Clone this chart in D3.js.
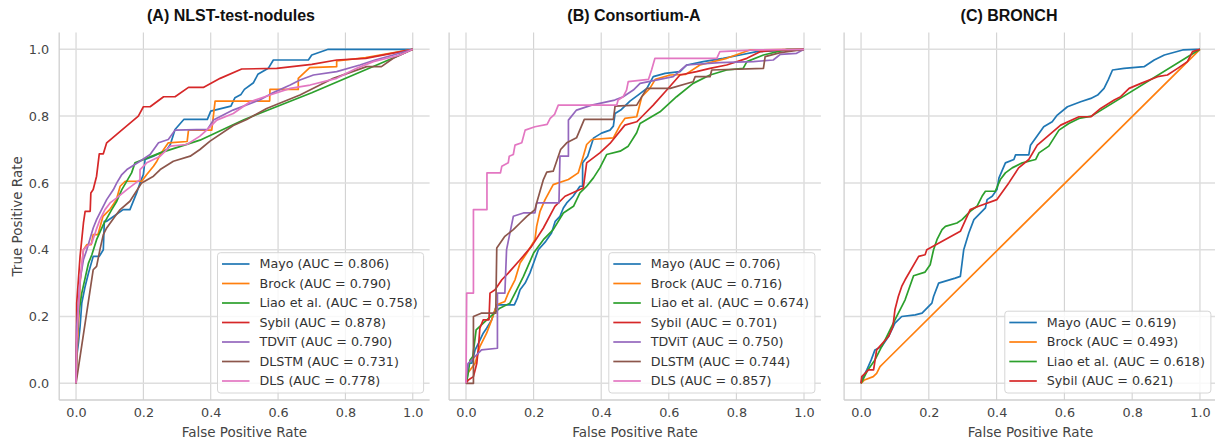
<!DOCTYPE html>
<html><head><meta charset="utf-8">
<script src="https://cdn.jsdelivr.net/npm/d3@7"></script>
<style>body{margin:0;background:#fff} svg{display:block}</style>
</head><body><svg id="c" width="1215" height="442"></svg>
<script>
// ---------------- data ----------------
const modelNames = ["Mayo","Brock","Liao et al.","Sybil","TDViT","DLSTM","DLS"];
const modelColors = ["#1f77b4","#ff7f0e","#2ca02c","#d62728","#9467bd","#8c564b","#e377c2"];
const panelTitles = ["(A) NLST-test-nodules","(B) Consortium-A","(C) BRONCH"];
const tickValues = [0,0.2,0.4,0.6,0.8,1.0];
const tickLabels = ["0.0","0.2","0.4","0.6","0.8","1.0"];
const xAxisLabel = "False Positive Rate";
const yAxisLabel = "True Positive Rate";
const aucA = [0.806,0.790,0.758,0.878,0.790,0.731,0.778];
const aucB = [0.706,0.716,0.674,0.701,0.750,0.744,0.857];
const aucC = [0.619,0.493,0.618,0.621];

// Panel A: NLST-test-nodules  ([FPR, TPR])
const rocA_Mayo = [[0,0],[0.002,0.08],[0.007,0.12],[0.012,0.17],[0.017,0.24],[0.027,0.29],[0.037,0.33],[0.051,0.38],[0.069,0.38],[0.081,0.40],[0.084,0.485],[0.091,0.485],[0.14,0.52],[0.16,0.52],[0.18,0.57],[0.19,0.60],[0.2,0.625],[0.205,0.67],[0.23,0.68],[0.27,0.70],[0.28,0.715],[0.294,0.76],[0.32,0.79],[0.39,0.79],[0.40,0.815],[0.46,0.83],[0.472,0.855],[0.49,0.865],[0.50,0.88],[0.527,0.9],[0.54,0.925],[0.571,0.943],[0.586,0.968],[0.69,0.968],[0.70,0.983],[0.749,1.0],[1,1]];
const rocA_Brock = [[0,0],[0.003,0.1],[0.007,0.17],[0.012,0.3],[0.022,0.40],[0.032,0.415],[0.045,0.415],[0.051,0.445],[0.065,0.445],[0.08,0.5],[0.1,0.52],[0.12,0.55],[0.131,0.59],[0.146,0.605],[0.195,0.605],[0.21,0.625],[0.23,0.65],[0.24,0.665],[0.25,0.685],[0.274,0.72],[0.33,0.724],[0.334,0.758],[0.403,0.758],[0.413,0.845],[0.575,0.845],[0.576,0.88],[0.66,0.88],[0.66,0.913],[0.694,0.945],[0.774,0.948],[0.774,0.965],[0.86,0.975],[1,1]];
const rocA_Liao = [[0,0],[0.002,0.12],[0.007,0.2],[0.017,0.27],[0.037,0.36],[0.047,0.385],[0.061,0.43],[0.081,0.475],[0.106,0.52],[0.121,0.545],[0.136,0.58],[0.165,0.63],[0.175,0.66],[0.25,0.69],[0.368,0.728],[0.5,0.79],[0.7,0.87],[0.94,0.973],[1,1]];
const rocA_Sybil = [[0,0],[0.002,0.24],[0.007,0.31],[0.012,0.38],[0.017,0.43],[0.022,0.48],[0.027,0.515],[0.042,0.515],[0.044,0.57],[0.051,0.58],[0.061,0.62],[0.069,0.687],[0.081,0.687],[0.091,0.72],[0.126,0.75],[0.185,0.80],[0.2,0.828],[0.22,0.828],[0.26,0.858],[0.294,0.858],[0.334,0.886],[0.378,0.886],[0.428,0.913],[0.492,0.941],[0.596,0.943],[0.7,0.955],[0.774,0.968],[0.86,0.973],[1,1]];
const rocA_TDViT = [[0,0],[0.002,0.17],[0.012,0.31],[0.022,0.37],[0.032,0.40],[0.051,0.465],[0.061,0.49],[0.071,0.51],[0.091,0.55],[0.111,0.58],[0.121,0.60],[0.136,0.625],[0.151,0.64],[0.19,0.665],[0.22,0.685],[0.245,0.72],[0.274,0.73],[0.294,0.758],[0.39,0.76],[0.408,0.788],[0.466,0.818],[0.545,0.848],[0.581,0.868],[0.636,0.893],[0.665,0.908],[0.705,0.923],[0.774,0.933],[0.843,0.953],[0.888,0.968],[0.942,0.983],[1,1]];
const rocA_DLSTM = [[0,0],[0.051,0.34],[0.061,0.35],[0.071,0.40],[0.081,0.445],[0.091,0.465],[0.116,0.50],[0.131,0.52],[0.16,0.545],[0.195,0.60],[0.23,0.62],[0.25,0.64],[0.289,0.665],[0.339,0.68],[0.368,0.70],[0.398,0.725],[0.467,0.772],[0.507,0.79],[0.566,0.823],[0.665,0.863],[0.764,0.913],[0.863,0.948],[0.907,0.948],[0.942,0.973],[1,1]];
const rocA_DLS = [[0,0],[0.002,0.12],[0.012,0.31],[0.022,0.40],[0.032,0.41],[0.047,0.42],[0.06,0.46],[0.071,0.49],[0.086,0.52],[0.101,0.54],[0.121,0.555],[0.151,0.58],[0.19,0.61],[0.19,0.64],[0.21,0.66],[0.25,0.68],[0.28,0.71],[0.329,0.715],[0.368,0.74],[0.388,0.758],[0.418,0.788],[0.467,0.808],[0.517,0.843],[0.576,0.863],[0.636,0.883],[0.695,0.893],[0.774,0.913],[0.833,0.943],[0.883,0.963],[0.962,0.983],[1,1]];

// Panel B: Consortium-A
const rocB_Mayo = [[0,0],[0.004,0.04],[0.007,0.06],[0.017,0.06],[0.027,0.1],[0.037,0.12],[0.051,0.15],[0.061,0.165],[0.076,0.19],[0.086,0.22],[0.091,0.235],[0.143,0.235],[0.152,0.255],[0.16,0.28],[0.175,0.3],[0.189,0.33],[0.2,0.36],[0.214,0.40],[0.236,0.425],[0.253,0.45],[0.264,0.485],[0.278,0.50],[0.288,0.525],[0.298,0.54],[0.317,0.56],[0.337,0.59],[0.345,0.59],[0.345,0.66],[0.36,0.68],[0.377,0.734],[0.401,0.749],[0.426,0.758],[0.436,0.77],[0.441,0.808],[0.46,0.82],[0.485,0.845],[0.509,0.863],[0.535,0.883],[0.554,0.918],[0.589,0.928],[0.633,0.933],[0.653,0.953],[0.702,0.963],[0.761,0.973],[0.811,0.983],[0.86,0.993],[1,1]];
const rocB_Brock = [[0,0],[0.005,0.03],[0.027,0.06],[0.041,0.11],[0.061,0.15],[0.076,0.19],[0.091,0.235],[0.115,0.245],[0.125,0.27],[0.145,0.31],[0.16,0.36],[0.18,0.39],[0.204,0.43],[0.209,0.47],[0.219,0.515],[0.234,0.55],[0.258,0.595],[0.303,0.61],[0.332,0.63],[0.347,0.68],[0.357,0.715],[0.372,0.73],[0.436,0.735],[0.456,0.773],[0.47,0.793],[0.505,0.798],[0.52,0.858],[0.544,0.883],[0.56,0.91],[0.604,0.923],[0.65,0.925],[0.692,0.953],[0.771,0.973],[0.84,0.998],[1,1]];
const rocB_Liao = [[0,0],[0.005,0.02],[0.012,0.07],[0.02,0.08],[0.03,0.16],[0.056,0.185],[0.1,0.225],[0.13,0.24],[0.15,0.28],[0.17,0.32],[0.2,0.39],[0.229,0.43],[0.258,0.46],[0.288,0.51],[0.318,0.53],[0.337,0.57],[0.357,0.59],[0.377,0.615],[0.396,0.645],[0.416,0.685],[0.456,0.695],[0.48,0.71],[0.505,0.75],[0.515,0.778],[0.574,0.813],[0.623,0.858],[0.672,0.898],[0.722,0.923],[0.771,0.938],[0.82,0.943],[0.831,0.963],[0.88,0.983],[0.95,1.0],[1,1]];
const rocB_Sybil = [[0,0],[0.007,0.01],[0.022,0.02],[0.027,0.04],[0.032,0.06],[0.037,0.11],[0.041,0.165],[0.051,0.19],[0.068,0.19],[0.071,0.27],[0.086,0.28],[0.106,0.31],[0.125,0.33],[0.16,0.37],[0.194,0.41],[0.229,0.465],[0.263,0.53],[0.293,0.56],[0.347,0.585],[0.357,0.66],[0.396,0.69],[0.426,0.718],[0.47,0.773],[0.505,0.783],[0.52,0.798],[0.554,0.833],[0.594,0.878],[0.633,0.923],[0.682,0.933],[0.722,0.943],[0.771,0.953],[0.831,0.973],[0.87,0.993],[0.93,0.998],[1,1]];
const rocB_TDViT = [[0,0],[0.002,0.03],[0.007,0.06],[0.046,0.10],[0.093,0.105],[0.093,0.27],[0.115,0.27],[0.12,0.40],[0.14,0.50],[0.17,0.51],[0.204,0.51],[0.209,0.54],[0.275,0.54],[0.278,0.68],[0.303,0.68],[0.303,0.788],[0.327,0.818],[0.372,0.833],[0.44,0.848],[0.465,0.858],[0.495,0.878],[0.515,0.898],[0.613,0.918],[0.653,0.953],[0.75,0.96],[0.85,0.963],[0.909,0.968],[0.93,0.985],[0.978,0.988],[1,1]];
const rocB_DLSTM = [[0,0],[0.022,0],[0.022,0.2],[0.045,0.21],[0.088,0.21],[0.091,0.405],[0.115,0.44],[0.14,0.46],[0.16,0.48],[0.18,0.5],[0.204,0.52],[0.209,0.54],[0.229,0.61],[0.239,0.632],[0.258,0.635],[0.28,0.70],[0.298,0.72],[0.327,0.735],[0.35,0.79],[0.436,0.79],[0.441,0.83],[0.505,0.833],[0.535,0.883],[0.604,0.883],[0.672,0.903],[0.678,0.918],[0.722,0.918],[0.727,0.938],[0.88,0.943],[0.885,0.978],[0.93,0.99],[1,1]];
const rocB_DLS = [[0,0],[0.002,0.27],[0.022,0.27],[0.022,0.52],[0.062,0.52],[0.062,0.63],[0.102,0.63],[0.106,0.65],[0.125,0.66],[0.128,0.68],[0.14,0.685],[0.145,0.713],[0.165,0.72],[0.175,0.758],[0.204,0.768],[0.24,0.775],[0.249,0.793],[0.262,0.805],[0.273,0.833],[0.446,0.833],[0.45,0.848],[0.465,0.858],[0.475,0.878],[0.48,0.903],[0.54,0.91],[0.549,0.938],[0.559,0.973],[0.742,0.973],[0.751,0.993],[0.86,0.998],[1,1]];

// Panel C: BRONCH
const rocC_Mayo = [[0,0],[0.002,0.01],[0.017,0.04],[0.03,0.07],[0.041,0.10],[0.061,0.11],[0.081,0.14],[0.1,0.18],[0.12,0.2],[0.16,0.205],[0.18,0.21],[0.209,0.24],[0.214,0.26],[0.229,0.30],[0.278,0.315],[0.293,0.32],[0.298,0.36],[0.303,0.40],[0.318,0.45],[0.333,0.49],[0.367,0.525],[0.372,0.55],[0.387,0.56],[0.401,0.58],[0.407,0.615],[0.426,0.66],[0.451,0.67],[0.456,0.684],[0.495,0.684],[0.5,0.713],[0.539,0.768],[0.564,0.783],[0.579,0.803],[0.609,0.828],[0.648,0.843],[0.678,0.853],[0.698,0.863],[0.717,0.883],[0.73,0.91],[0.742,0.938],[0.776,0.943],[0.835,0.948],[0.865,0.968],[0.895,0.983],[0.949,0.998],[0.99,1],[1,1]];
const rocC_Brock = [[0,0],[0.01,0.01],[0.036,0.02],[0.046,0.03],[0.056,0.05],[0.066,0.06],[1,1]];
const rocC_Liao = [[0,0],[0.02,0.04],[0.041,0.07],[0.071,0.13],[0.1,0.19],[0.13,0.25],[0.155,0.322],[0.189,0.333],[0.204,0.355],[0.214,0.40],[0.224,0.43],[0.239,0.46],[0.249,0.47],[0.283,0.48],[0.298,0.49],[0.322,0.515],[0.342,0.53],[0.357,0.56],[0.367,0.575],[0.396,0.575],[0.411,0.61],[0.426,0.63],[0.446,0.645],[0.476,0.66],[0.515,0.67],[0.525,0.69],[0.554,0.71],[0.584,0.758],[0.613,0.778],[0.643,0.793],[0.68,0.80],[1,1]];
const rocC_Sybil = [[0,0],[0.002,0.02],[0.022,0.04],[0.037,0.04],[0.046,0.10],[0.081,0.14],[0.094,0.17],[0.1,0.22],[0.11,0.26],[0.12,0.29],[0.13,0.31],[0.17,0.38],[0.189,0.385],[0.194,0.40],[0.293,0.455],[0.322,0.52],[0.347,0.53],[0.401,0.55],[0.436,0.60],[0.465,0.645],[0.495,0.67],[0.52,0.713],[0.589,0.773],[0.643,0.798],[0.678,0.798],[0.707,0.823],[0.747,0.848],[0.766,0.858],[0.791,0.883],[0.826,0.898],[0.875,0.918],[0.904,0.923],[0.934,0.943],[0.963,0.963],[0.978,0.993],[1,1]];

// ---------------- drawing ----------------
const svg = d3.select("#c");
const panels = [
  {title: panelTitles[0], titleX: 231, range: [59.2, 429.6], showY: true,
   curves: [rocA_Mayo, rocA_Brock, rocA_Liao, rocA_Sybil, rocA_TDViT, rocA_DLSTM, rocA_DLS], auc: aucA},
  {title: panelTitles[1], titleX: 634, range: [449.1, 820.9], showY: false,
   curves: [rocB_Mayo, rocB_Brock, rocB_Liao, rocB_Sybil, rocB_TDViT, rocB_DLSTM, rocB_DLS], auc: aucB},
  {title: panelTitles[2], titleX: 1009, range: [844.1, 1216.9], showY: false,
   curves: [rocC_Mayo, rocC_Brock, rocC_Liao, rocC_Sybil], auc: aucC}
];
const y = d3.scaleLinear().domain([-0.05, 1.05]).range([400, 32.6]);
const FONT = "DejaVu Sans, sans-serif";

panels.forEach(p => {
  const x = d3.scaleLinear().domain([-0.05, 1.05]).range(p.range);
  const g = svg.append("g");

  // grid
  g.selectAll(".vg").data(tickValues).join("line")
    .attr("x1", d => x(d)).attr("x2", d => x(d))
    .attr("y1", y(-0.05)).attr("y2", y(1.05))
    .attr("stroke", "#d2d2d2").attr("stroke-width", 1.1);
  g.selectAll(".hg").data(tickValues).join("line")
    .attr("x1", x(-0.05)).attr("x2", x(1.05))
    .attr("y1", d => y(d)).attr("y2", d => y(d))
    .attr("stroke", "#dedede").attr("stroke-width", 1.5);

  // spines
  g.append("line").attr("x1", x(-0.05)).attr("x2", x(-0.05)).attr("y1", y(-0.05)).attr("y2", y(1.05))
    .attr("stroke", "#cfcfcf").attr("stroke-width", 1.3);
  g.append("line").attr("x1", x(-0.05)).attr("x2", x(1.05)).attr("y1", y(-0.05)).attr("y2", y(-0.05))
    .attr("stroke", "#cfcfcf").attr("stroke-width", 1.3);

  // x axis ticks
  const xa = g.append("g").attr("transform", `translate(0,${y(-0.05)})`)
    .call(d3.axisBottom(x).tickValues(tickValues).tickSize(0).tickPadding(8)
      .tickFormat((d, i) => tickLabels[i]));
  xa.select(".domain").remove();
  xa.selectAll("text").attr("font-family", FONT).attr("font-size", 12.8).attr("fill", "#444");

  if (p.showY) {
    const ya = g.append("g").attr("transform", `translate(${x(-0.05)},0)`)
      .call(d3.axisLeft(y).tickValues(tickValues).tickSize(0).tickPadding(10)
        .tickFormat((d, i) => tickLabels[i]));
    ya.select(".domain").remove();
    ya.selectAll("text").attr("font-family", FONT).attr("font-size", 12.8).attr("fill", "#444");
    svg.append("text").attr("transform", `translate(22,${(y(-0.05)+y(1.05))/2}) rotate(-90)`)
      .attr("text-anchor", "middle").attr("font-family", FONT).attr("font-size", 13.5)
      .attr("fill", "#444").text(yAxisLabel);
  }

  // x label
  g.append("text").attr("x", (p.range[0] + p.range[1]) / 2).attr("y", 437)
    .attr("text-anchor", "middle").attr("font-family", FONT).attr("font-size", 13.5)
    .attr("fill", "#444").text(xAxisLabel);

  // title
  g.append("text").attr("x", p.titleX).attr("y", 21)
    .attr("text-anchor", "middle").attr("font-family", "Liberation Sans, Arial, sans-serif")
    .attr("font-weight", "bold").attr("font-size", 16).attr("fill", "#111").text(p.title);

  // curves
  const line = d3.line().x(d => x(d[0])).y(d => y(d[1]));
  p.curves.forEach((c, i) => {
    g.append("path").datum(c).attr("d", line).attr("fill", "none")
      .attr("stroke", modelColors[i]).attr("stroke-width", 1.7).attr("stroke-linejoin", "round");
  });

  // legend
  const n = p.curves.length;
  const lg = g.append("g");
  const box = lg.append("rect");
  const rowY = i => 381 - (n - 1 - i) * 19.5;
  const labels = p.curves.map((c, i) => `${modelNames[i]} (AUC = ${p.auc[i].toFixed(3)})`);
  const texts = lg.selectAll(".lt").data(labels).join("text")
    .attr("y", (d, i) => rowY(i)).attr("dy", "0.35em")
    .attr("font-family", FONT).attr("font-size", 12.7).attr("fill", "#333").text(d => d);
  let maxW = 0;
  texts.each(function () { maxW = Math.max(maxW, this.getComputedTextLength()); });
  const boxW = maxW + 42 + 6;
  const boxX = x(1.05) - 6 - boxW;
  const boxTop = rowY(0) - 11.3;
  box.attr("x", boxX).attr("y", boxTop).attr("width", boxW).attr("height", 393 - boxTop)
    .attr("rx", 3).attr("fill", "#fff").attr("fill-opacity", 0.8)
    .attr("stroke", "#d6d6d6").attr("stroke-width", 1);
  texts.attr("x", boxX + 42);
  lg.selectAll(".ll").data(labels).join("line")
    .attr("x1", boxX + 4.5).attr("x2", boxX + 32)
    .attr("y1", (d, i) => rowY(i)).attr("y2", (d, i) => rowY(i))
    .attr("stroke", (d, i) => modelColors[i]).attr("stroke-width", 1.7);
});
</script></body></html>
